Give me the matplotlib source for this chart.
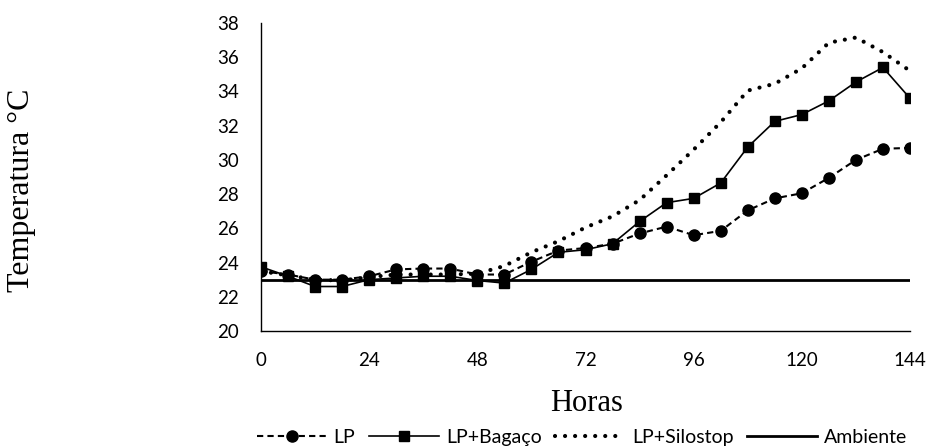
import matplotlib
matplotlib.use("Agg")
import matplotlib.pyplot as plt

# dados
horas = list(range(0, 145, 6))
lp = [23.5, 23.3, 23.0, 23.0, 23.2, 23.6, 23.65, 23.65, 23.3, 23.3, 24.05, 24.7, 24.85,
      25.1, 25.7, 26.1, 25.6, 25.85, 27.05, 27.75, 28.05, 28.95, 30.0, 30.65, 30.7]
lp_bagaco = [23.75, 23.2, 22.6, 22.6, 23.0, 23.1, 23.2, 23.2, 22.95, 22.8, 23.6, 24.6, 24.75,
             25.1, 26.4, 27.5, 27.75, 28.65, 30.75, 32.25, 32.65, 33.45, 34.55, 35.4, 33.6]
lp_silostop = [23.5, 23.25, 23.0, 22.95, 23.15, 23.3, 23.3, 23.3, 23.35, 23.8, 24.6, 25.25, 26.05,
               26.7, 27.65, 29.1, 30.6, 32.2, 34.05, 34.45, 35.35, 36.85, 37.15, 36.3, 35.2]
ambiente = [23.0] * len(horas)

sans = ['Lato', 'DejaVu Sans']
serif = ['Liberation Serif', 'DejaVu Serif']

fig = plt.figure(figsize=(9.3, 4.48), dpi=100)
ax = fig.add_axes([261/930, 1-331/448, (910-261)/930, (331-23)/448])

ax.plot(horas, lp, color='black', linestyle=(0, (3, 2)), linewidth=1.5,
        marker='o', markersize=8, label='LP', zorder=4)
ax.plot(horas, lp_bagaco, color='black', linestyle='-', linewidth=1.2,
        marker='s', markersize=7, label='LP+Bagaço', zorder=3)
ax.plot(horas, lp_silostop, color='black', linestyle=(0, (0.01, 2.4)), linewidth=3,
        dash_capstyle='round', label='LP+Silostop', zorder=5)
ax.plot(horas, ambiente, color='black', linestyle='-', linewidth=2, label='Ambiente', zorder=2)

ax.set_xlim(0, 144)
ax.set_ylim(20, 38)
ax.set_xticks(range(0, 145, 24))
ax.set_yticks(range(20, 39, 2))
ax.tick_params(length=0, labelsize=13.5)
ax.tick_params(axis='y', pad=16)
ax.tick_params(axis='x', pad=15)
for lab in ax.get_xticklabels() + ax.get_yticklabels():
    lab.set_family(sans)
for s in ['top', 'right']:
    ax.spines[s].set_visible(False)
ax.spines['left'].set_linewidth(1)
ax.spines['bottom'].set_linewidth(1)

fig.text(587/930, 1-403/448, 'Horas', ha='center', va='center', fontsize=22, family=serif)
fig.text(22/930, 1-190/448, 'Temperatura °C', ha='center', va='center', rotation=90,
         fontsize=23, family=serif)

leg = fig.legend(loc='center', bbox_to_anchor=(582/930, 1-437/448), ncol=4, frameon=False,
                 handlelength=3.6, handletextpad=0.35, columnspacing=0.7,
                 prop={'family': sans, 'size': 14}, borderaxespad=0)

fig.savefig('out.png', dpi=100)
